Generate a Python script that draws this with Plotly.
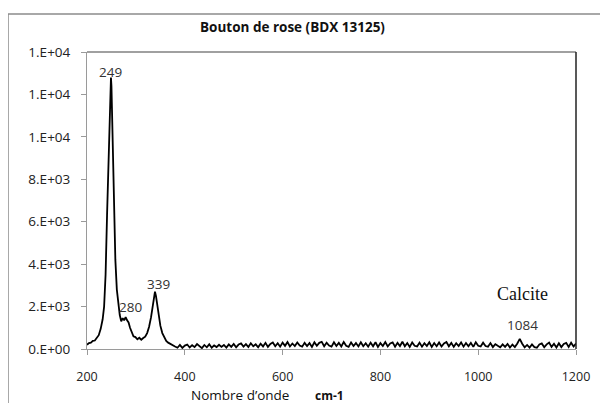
import plotly.graph_objects as go

# ---- data ----
peak_x = [200, 204, 208, 212, 216, 220, 224, 228, 232, 235, 238, 241, 244, 246, 248, 249,
          250, 252, 254, 256, 258, 261, 264, 267, 270, 273, 276, 279, 282, 285, 288, 291,
          295, 299, 303, 307, 311, 315, 319, 323, 327, 331, 334, 337, 339, 341, 344, 347,
          350, 354, 358, 362, 366, 370, 375]
peak_y = [200, 280, 300, 380, 400, 500, 650, 950, 1400, 2000, 3500, 6300, 8800, 10500, 12300, 12800,
          12400, 10500, 8000, 5900, 4200, 2800, 2000, 1600, 1300, 1450, 1350, 1500, 1350, 1250, 1000, 820,
          600, 560, 460, 530, 440, 520, 580, 750, 1050, 1500, 2000, 2550, 2700, 2500, 2000, 1500,
          1100, 750, 520, 380, 300, 240, 180]

base_x = list(range(380, 1205, 5))
base_y = [120, 60, 190, 50, 160, 210, 70, 180, 90, 230, 110, 40, 190, 80, 220, 60, 170, 90, 200, 100,
          190, 70, 220, 100, 240, 80, 210, 260, 110, 230, 90, 270, 130, 220, 80, 250, 120, 290, 100, 240,
          310, 130, 270, 110, 300, 150, 330, 120, 260, 140, 310, 160, 110, 290, 140, 280, 100, 320, 150, 290,
          340, 130, 300, 160, 110, 320, 140, 290, 120, 330, 150, 100, 310, 140, 280, 120, 320, 130, 270, 110,
          300, 130, 320, 100, 280, 140, 330, 120, 260, 310, 110, 290, 140, 340, 130, 280, 100, 310, 150, 120,
          300, 110, 270, 140, 320, 100, 280, 130, 310, 120, 260, 330, 130, 290, 100, 270, 140, 310, 110, 280,
          130, 290, 100, 320, 150, 120, 300, 140, 110, 280, 90, 230, 150, 80, 220, 100, 240, 70, 210, 90,
          260, 480, 250, 80, 190, 70, 220, 90, 60, 210, 260, 80, 220, 300, 100, 250, 70, 270, 90, 240,
          290, 100, 300, 120, 260]

y_tick_vals = [0, 2000, 4000, 6000, 8000, 10000, 12000, 14000]
y_tick_text = ["0.E+00", "2.E+03", "4.E+03", "6.E+03", "8.E+03", "1.E+04", "1.E+04", "1.E+04"]
x_tick_vals = [200, 400, 600, 800, 1000, 1200]

peak_labels = ["249", "280", "339", "1084"]
peak_label_x = [249, 288, 347, 1090]
peak_label_y = [13060, 1980, 3065, 1131]

title_text = "Bouton de rose (BDX 13125)"
xlabel_text = "Nombre d\u2019onde"
xunit_text = "cm-1"
calcite_text = "Calcite"

# the page body adds an 8px margin; work in reference pixels and shift by it
OFF = 8
W, H = 608 - OFF, 403 - OFF
L, R, T, B = 87 - OFF, 576 - OFF, 52 - OFF, 349 - OFF

def px(xp):
    return (xp - OFF - L) / (R - L)

def py(yp):
    return (B - (yp - OFF)) / (B - T)

fig = go.Figure()
fig.add_trace(go.Scatter(x=peak_x + base_x, y=peak_y + base_y, mode="lines",
                         line=dict(color="black", width=1.8), hoverinfo="skip"))

font = "Open Sans, Noto Sans, sans-serif"
annotations = []
for t, ax_, ay_ in zip(peak_labels, peak_label_x, peak_label_y):
    annotations.append(dict(x=ax_, y=ay_, xref="x", yref="y", text=t, showarrow=False,
                            xanchor="center", yanchor="middle",
                            font=dict(family=font, size=13.5, color="#333")))
annotations.append(dict(x=1090, y=2593, xref="x", yref="y", text=calcite_text, showarrow=False,
                        xanchor="center", yanchor="middle",
                        font=dict(family="Liberation Serif, serif", size=18, color="#111")))
annotations.append(dict(x=px(292), y=py(27), xref="paper", yref="paper", text="<b>" + title_text + "</b>",
                        showarrow=False, xanchor="center", yanchor="middle",
                        font=dict(family=font, size=13.5, color="#111")))
annotations.append(dict(x=px(240), y=py(395), xref="paper", yref="paper", text=xlabel_text,
                        showarrow=False, xanchor="center", yanchor="middle",
                        font=dict(family=font, size=13.5, color="#111")))
annotations.append(dict(x=px(329), y=py(395), xref="paper", yref="paper", text="<b>" + xunit_text + "</b>",
                        showarrow=False, xanchor="center", yanchor="middle",
                        font=dict(family=font, size=12, color="#111")))

shapes = [
    # outer chart frame (only top and left visible)
    dict(type="rect", xref="paper", yref="paper", x0=px(8), x1=px(630), y0=py(430), y1=py(14),
         line=dict(color="#8c8c8c", width=1.5), layer="below"),
    # plot area top (gray) and right (dark)
    dict(type="line", xref="paper", yref="paper", x0=0, x1=1, y0=1, y1=1,
         line=dict(color="#808080", width=1.5)),
    dict(type="line", xref="paper", yref="paper", x0=1, x1=1, y0=0, y1=1,
         line=dict(color="#222", width=1.5)),
]

fig.update_layout(
    width=W, height=H,
    margin=dict(l=L, r=W - R, t=T, b=H - B, autoexpand=False),
    paper_bgcolor="white", plot_bgcolor="white",
    showlegend=False,
    annotations=annotations,
    shapes=shapes,
    xaxis=dict(range=[200, 1200], tickvals=x_tick_vals, showgrid=False, zeroline=False,
               showline=True, linecolor="#9a9a9a", linewidth=1,
               ticks="outside", ticklen=5, tickcolor="#9a9a9a",
               ticklabelstandoff=11,
               tickfont=dict(family=font, size=12.5, color="#222")),
    yaxis=dict(range=[0, 14000], tickvals=y_tick_vals, ticktext=y_tick_text, showgrid=False,
               zeroline=False, showline=True, linecolor="#9a9a9a", linewidth=1,
               ticks="outside", ticklen=5, tickcolor="#9a9a9a",
               ticklabelstandoff=8,
               tickfont=dict(family=font, size=13.5, color="#222")),
)

fig.write_html("out.html")
